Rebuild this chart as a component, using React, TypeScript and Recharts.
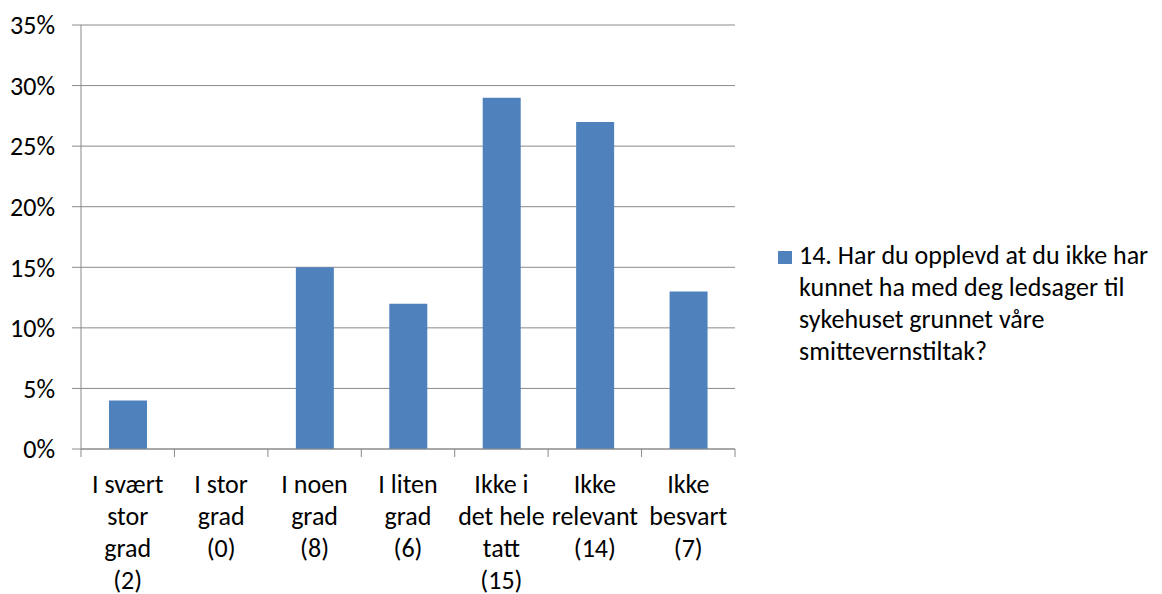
import React from "react";
import {
  BarChart,
  Bar,
  XAxis,
  YAxis,
  CartesianGrid,
  Legend,
} from "recharts";

// category labels, already broken into the lines used on the axis
const categoryLines: string[][] = [
  ["I svært", "stor", "grad", "(2)"],
  ["I stor", "grad", "(0)"],
  ["I noen", "grad", "(8)"],
  ["I liten", "grad", "(6)"],
  ["Ikke i", "det hele", "tatt", "(15)"],
  ["Ikke", "relevant", "(14)"],
  ["Ikke", "besvart", "(7)"],
];
const percentValues = [4, 0, 15, 12, 29, 27, 13];
const yTicks = [0, 5, 10, 15, 20, 25, 30, 35];
const seriesLines = [
  "14. Har du opplevd at du ikke har",
  "kunnet ha med deg ledsager til",
  "sykehuset grunnet våre",
  "smittevernstiltak?",
];

const FONT = "Carlito, Calibri, Lato, sans-serif";
const FONT_SIZE = 26;
const GRAY = "#8a8a8a";
const BLUE = "#4f81bd";

const data = categoryLines.map((lines, i) => ({
  name: lines.join(" "),
  value: percentValues[i],
}));

// tick text plus the tick marks at the band edges (Excel style)
function CategoryTick(props: any) {
  const { x, y, index, payload, width, visibleTicksCount } = props;
  const lines = categoryLines[index] || [];
  const half =
    payload && payload.offset ? payload.offset : width / visibleTicksCount / 2;
  const last = index === visibleTicksCount - 1;
  return (
    <g>
      <line x1={x - half} x2={x - half} y1={y} y2={y + 8} stroke={GRAY} />
      {last && (
        <line x1={x + half} x2={x + half} y1={y} y2={y + 8} stroke={GRAY} />
      )}
      <text
        x={x}
        y={y}
        textAnchor="middle"
        fill="#000"
        fontFamily={FONT}
        fontSize={FONT_SIZE}
      >
        {lines.map((line, i) => (
          <tspan key={i} x={x} dy={i === 0 ? 44 : 32}>
            {line}
          </tspan>
        ))}
      </text>
    </g>
  );
}

function LegendBox() {
  return (
    <div
      style={{
        position: "relative",
        fontFamily: FONT,
        fontSize: FONT_SIZE,
        lineHeight: "32px",
        color: "#000",
        textAlign: "left",
      }}
    >
      <div
        style={{
          position: "absolute",
          left: 0,
          top: 12,
          width: 14,
          height: 13,
          background: BLUE,
        }}
      />
      <div style={{ marginLeft: 21, whiteSpace: "nowrap" }}>
        {seriesLines.map((line, i) => (
          <div key={i}>{line}</div>
        ))}
      </div>
    </div>
  );
}

export default function App() {
  return (
    <div style={{ position: "absolute", left: 0, top: 0, background: "#fff" }}>
      <BarChart
        width={1162}
        height={594}
        data={data}
        margin={{ top: 25, right: 427, left: 0, bottom: 0 }}
      >
        <CartesianGrid vertical={false} stroke={GRAY} />
        <XAxis
          dataKey="name"
          height={145}
          interval={0}
          axisLine={{ stroke: GRAY }}
          tickLine={false}
          tickSize={0}
          tickMargin={0}
          tick={<CategoryTick />}
        />
        <YAxis
          width={81}
          domain={[0, 35]}
          ticks={yTicks}
          interval={0}
          tickFormatter={(v) => `${v}%`}
          axisLine={{ stroke: GRAY }}
          tickLine={{ stroke: GRAY }}
          tickSize={9}
          tickMargin={17}
          tick={{ fill: "#000", fontFamily: FONT, fontSize: FONT_SIZE }}
        />
        <Legend
          layout="vertical"
          align="center"
          verticalAlign="middle"
          content={() => <LegendBox />}
          wrapperStyle={{ left: 778, top: 239, width: 384 }}
        />
        <Bar
          dataKey="value"
          name={seriesLines.join(" ")}
          fill={BLUE}
          barSize={38}
          isAnimationActive={false}
        />
      </BarChart>
    </div>
  );
}
